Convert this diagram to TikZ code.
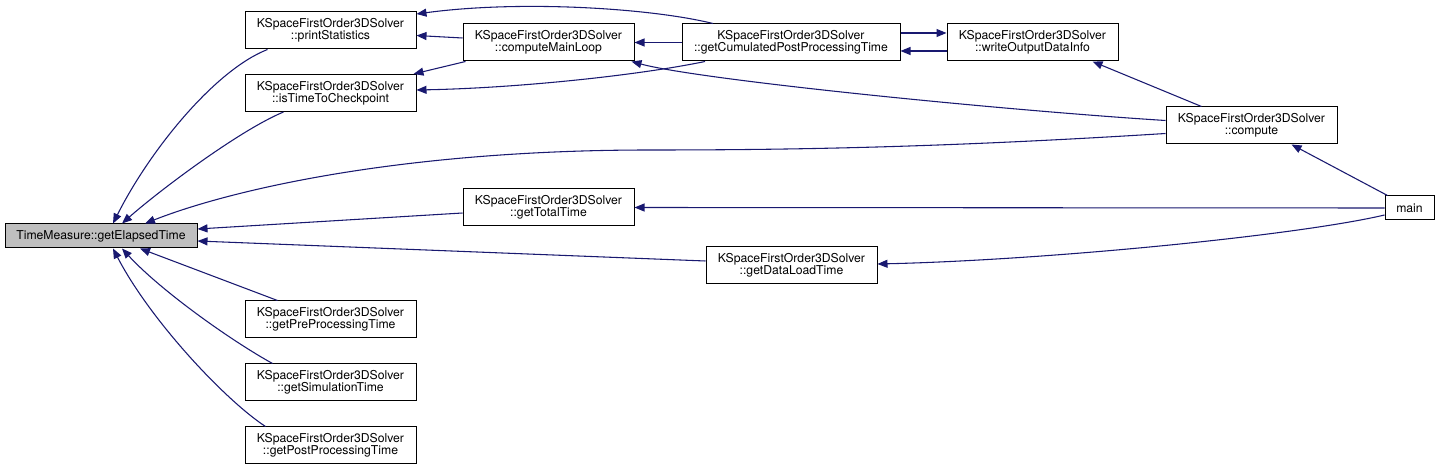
\documentclass[tikz,border=0pt]{standalone}
\usepackage{fontspec}
\setmainfont{TeX Gyre Heros}
\usetikzlibrary{arrows.meta}
\definecolor{edgec}{HTML}{191970}
\definecolor{hlgray}{HTML}{BFBFBF}
\begin{document}
\begin{tikzpicture}[x=0.75pt,y=-0.75pt,
  box/.style={draw=black, line width=0.75pt, fill=white, inner sep=0pt, align=center,
    font=\fontsize{9.15}{8.9}\selectfont, minimum height=27.75pt, minimum width=128.25pt},
  wide/.style={minimum width=163.5pt},
  small/.style={minimum height=18pt},
  edge/.style={draw=edgec, line width=0.8pt, -{Triangle[length=7.5pt,width=6pt]}}]
\useasboundingbox (0,0) rectangle (1440,470);
\fill[white] (0,0) rectangle (1440,470);

% nodes
\node[box, small, minimum width=144pt, fill=hlgray] (TM) at (101,236) {TimeMeasure::getElapsedTime};
\node[box] (PS) at (330.5,30.5) {KSpaceFirstOrder3DSolver\\::printStatistics};
\node[box] (IT) at (330.5,93) {KSpaceFirstOrder3DSolver\\::isTimeToCheckpoint};
\node[box] (PRE) at (330.5,319.5) {KSpaceFirstOrder3DSolver\\::getPreProcessingTime};
\node[box] (SIM) at (330.5,382.5) {KSpaceFirstOrder3DSolver\\::getSimulationTime};
\node[box] (POST) at (330.5,445.5) {KSpaceFirstOrder3DSolver\\::getPostProcessingTime};
\node[box] (CML) at (548.5,42.5) {KSpaceFirstOrder3DSolver\\::computeMainLoop};
\node[box, wide] (GCP) at (791,42.5) {KSpaceFirstOrder3DSolver\\::getCumulatedPostProcessingTime};
\node[box] (WOD) at (1032.5,42.5) {KSpaceFirstOrder3DSolver\\::writeOutputDataInfo};
\node[box] (CMP) at (1251.5,125.5) {KSpaceFirstOrder3DSolver\\::compute};
\node[box] (GTT) at (548.5,207.5) {KSpaceFirstOrder3DSolver\\::getTotalTime};
\node[box] (GDL) at (791.5,265.5) {KSpaceFirstOrder3DSolver\\::getDataLoadTime};
\node[box, small, minimum width=36.75pt] (MAIN) at (1409.5,208) {main};

% edges into TimeMeasure::getElapsedTime
\draw[edge] ([shift={(-63,0)}]PS.south) .. controls (215,70) and (150,150) .. ([shift={(12,0)}]TM.north);
\draw[edge] ([shift={(-47,0)}]IT.south) .. controls (240,130) and (160,190) .. ([shift={(21,0)}]TM.north);
\draw[edge] ([shift={(0,8)}]CMP.west) .. controls (950,147) and (800,150) .. (650,150)
  .. controls (400,150) and (230,190) .. ([shift={(44,0)}]TM.north);
\draw[edge] ([shift={(0,5.5)}]GTT.west) -- ([shift={(0,-7)}]TM.east);
\draw[edge] ([shift={(0,-4.5)}]GDL.west) -- ([shift={(0,5)}]TM.east);
\draw[edge] ([shift={(-53,0)}]PRE.north) -- ([shift={(39,0)}]TM.south);
\draw[edge] ([shift={(-58,0)}]SIM.north) .. controls (230,340) and (160,290) .. ([shift={(21,0)}]TM.south);
\draw[edge] ([shift={(-65,0)}]POST.north) .. controls (225,400) and (150,320) .. ([shift={(12,0)}]TM.south);

% upper part
\draw[edge] ([shift={(0,-4.5)}]CML.west) -- ([shift={(0,5)}]PS.east);
\draw[edge] ([shift={(-78,0)}]GCP.north) .. controls (650,8) and (520,0) .. ([shift={(0,-16.5)}]PS.east);
\draw[edge] ([shift={(-83,0)}]CML.south) -- ([shift={(-3,0)}]IT.north east);
\draw[edge] ([shift={(-86,0)}]GCP.south) .. controls (640,75) and (520,88) .. ([shift={(0,-3)}]IT.east);
\draw[edge] (GCP.west) -- (CML.east);
\draw[edge] ([shift={(0,-5)}]CMP.west) .. controls (1000,110) and (700,80) .. ([shift={(-3,0)}]CML.south east);
\draw[edge] ([shift={(0,-9.5)}]GCP.east) -- ([shift={(0,-9.5)}]WOD.west);
\draw[edge] ([shift={(0,8.5)}]WOD.west) -- ([shift={(0,8.5)}]GCP.east);
\draw[edge] ([shift={(-50,0)}]CMP.north) -- ([shift={(60,0)}]WOD.south);

% main
\draw[edge] ([shift={(3,0)}]MAIN.north west) -- ([shift={(40,0)}]CMP.south);
\draw[edge] (MAIN.west) -- (GTT.east);
\draw[edge] ([shift={(0,7)}]MAIN.west) .. controls (1300,235) and (1050,260) .. ([shift={(0,-1.5)}]GDL.east);
\end{tikzpicture}
\end{document}
